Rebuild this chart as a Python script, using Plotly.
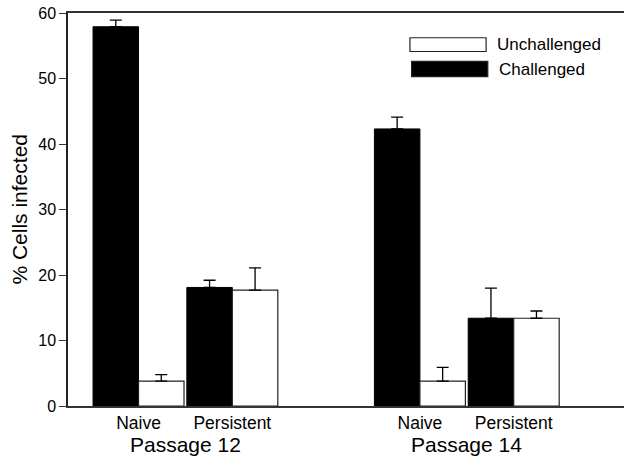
import plotly.graph_objects as go

# ---- data ----
passages = ["Passage 12", "Passage 14"]
conditions = ["Naive", "Persistent"]
challenged = [57.9, 18.1, 42.3, 13.4]
challenged_err = [1.0, 1.1, 1.8, 4.6]
unchallenged = [3.8, 17.7, 3.8, 13.4]
unchallenged_err = [1.0, 3.4, 2.1, 1.1]
y_ticks = [0, 10, 20, 30, 40, 50, 60]
legend_names = ["Unchallenged", "Challenged"]

FONT = "Arial, Liberation Sans, sans-serif"

keys = [f"{p} {c}" for p in passages for c in conditions]
labels = [c for p in passages for c in conditions]
cat_order = keys[:2] + [" "] + keys[2:]

fig = go.Figure()
fig.add_trace(go.Bar(
    name="Challenged", x=keys, y=challenged,
    marker=dict(color="black", line=dict(color="black", width=1)),
    error_y=dict(type="data", symmetric=False, array=challenged_err,
                 arrayminus=[0] * len(challenged_err),
                 color="black", thickness=1.3, width=6),
    showlegend=False,
))
fig.add_trace(go.Bar(
    name="Unchallenged", x=keys, y=unchallenged,
    marker=dict(color="white", line=dict(color="#222", width=1.2)),
    error_y=dict(type="data", symmetric=False, array=unchallenged_err,
                 arrayminus=[0] * len(unchallenged_err),
                 color="black", thickness=1.3, width=6),
    showlegend=False,
))

# passage group labels centred under each pair of categories
annotations = []
for p in passages:
    idx = [cat_order.index(f"{p} {c}") for c in conditions]
    annotations.append(dict(
        x=sum(idx) / len(idx), xref="x", y=-0.099, yref="paper",
        text=p, showarrow=False, xanchor="center", yanchor="middle",
        font=dict(family=FONT, size=21, color="black"),
    ))

annotations.append(dict(
    x=-0.088, xref="paper", y=0.5, yref="paper", text="% Cells infected",
    textangle=-90, showarrow=False, xanchor="center", yanchor="middle",
    font=dict(family=FONT, size=21, color="black"),
))

# custom legend with long swatches
shapes = []
legend_fill = {"Unchallenged": "white", "Challenged": "black"}
legend_rows = [(0.902, 0.937, 0.615, 0.752), (0.838, 0.877, 0.618, 0.755)]
for name, (y0, y1, x0, x1) in zip(legend_names, legend_rows):
    shapes.append(dict(type="rect", xref="paper", yref="paper",
                       x0=x0, x1=x1, y0=y0, y1=y1,
                       fillcolor=legend_fill[name],
                       line=dict(color="#222", width=1.2)))
    annotations.append(dict(
        x=x1 + 0.016, xref="paper", y=(y0 + y1) / 2, yref="paper",
        text=name, showarrow=False, xanchor="left", yanchor="middle",
        font=dict(family=FONT, size=17, color="black"),
    ))

fig.update_layout(
    width=625, height=457,
    margin=dict(l=68, r=1, t=13, b=51),
    paper_bgcolor="white", plot_bgcolor="white",
    barmode="group", bargap=0.03, bargroupgap=0.0,
    font=dict(family=FONT, color="black"),
    annotations=annotations, shapes=shapes,
    xaxis=dict(
        type="category", categoryorder="array", categoryarray=cat_order,
        tickvals=keys, ticktext=labels, range=[-0.752, 5.176],
        showline=True, linecolor="#333", linewidth=1.5, mirror=True,
        ticks="", showgrid=False, zeroline=False,
        tickfont=dict(family=FONT, size=17.5, color="black"),
    ),
    yaxis=dict(
        range=[0, 60], tickvals=y_ticks, ticks="outside", ticklen=7,
        tickcolor="#333", tickwidth=1.3,
        showline=True, linecolor="#222", linewidth=1.5,
        showgrid=False, zeroline=False,
        tickfont=dict(family=FONT, size=16, color="black"),
    ),
)

fig.write_html("out.html")
